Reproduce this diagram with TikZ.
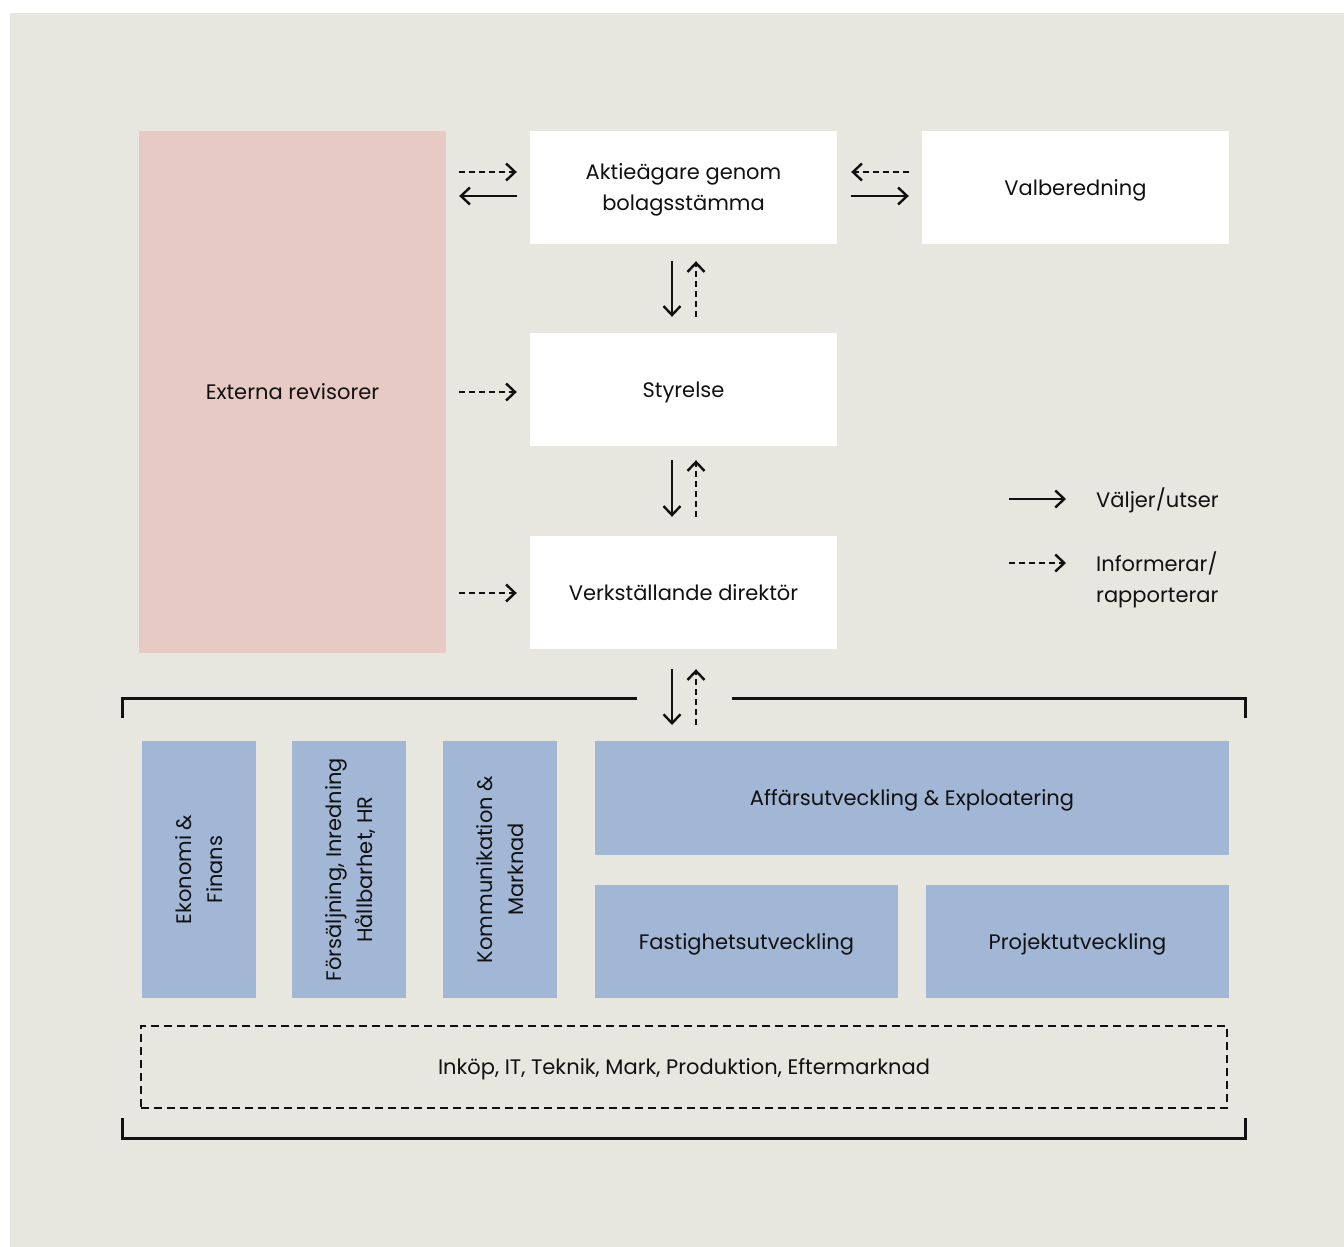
\documentclass[tikz,border=0pt]{standalone}
\usepackage{fontspec}
\setmainfont{Poppins}
\usetikzlibrary{arrows.meta,calc}
\definecolor{bg}{HTML}{E7E6DF}
\definecolor{pinkbox}{HTML}{E7CAC4}
\definecolor{bluebox}{HTML}{A2B6D6}
\definecolor{ink}{HTML}{111111}
\newcommand\twoline[2]{\vbox{\halign{\hfil##\hfil\cr#1\cr#2\cr}}}
\begin{document}
\begin{tikzpicture}[x=1pt,y=-1pt,
  txt/.style={font=\fontsize{21}{31}\selectfont, text=ink, text height=15pt, text depth=0pt},
  txttwo/.style={txt, text height=46pt},
  wbox/.style={txt, fill=white, minimum width=307pt, minimum height=113pt, inner sep=0pt},
  bbox/.style={txt, fill=bluebox, inner sep=0pt},
  sol/.style={draw=ink, line width=2.4pt, -{Straight Barb[length=9pt,width=17pt]}},
  dsh/.style={sol, dash pattern=on 6pt off 4pt},
  brk/.style={draw=ink, line width=3pt, line cap=butt}]
\useasboundingbox (0,0) rectangle (1344,1247);
\fill[bg] (10,13) rectangle (1344,1247);

% main boxes
\node[txt, fill=pinkbox, minimum width=307pt, minimum height=522pt, inner sep=0pt] (ext) at (292.5,392) {Externa revisorer};
\node[wbox, txttwo] (aa) at (683.5,187.5) {\twoline{Aktieägare genom}{bolagsstämma}};
\node[wbox] (val) at (1075.5,187.5) {Valberedning};
\node[wbox] (sty) at (683.5,389.5) {Styrelse};
\node[wbox] (vd) at (683.5,592.5) {Verkställande direktör};

% horizontal arrows ext <-> aa
\draw[dsh] ($(ext.east |- aa.west)+(13,-15.5)$) -- ($(aa.west)+(-13,-15.5)$);
\draw[sol] ($(aa.west)+(-13,8.5)$) -- ($(ext.east |- aa.west)+(13,8.5)$);
% aa <-> val
\draw[dsh] ($(val.west)+(-13,-15.5)$) -- ($(aa.east)+(14,-15.5)$);
\draw[sol] ($(aa.east)+(14,8.5)$) -- ($(val.west)+(-13,8.5)$);
% ext -> sty, ext -> vd
\draw[dsh] ($(ext.east |- sty.west)+(13,2.5)$) -- ($(sty.west)+(-13,2.5)$);
\draw[dsh] ($(ext.east |- vd.west)+(13,0.5)$) -- ($(vd.west)+(-13,0.5)$);

% vertical arrows aa <-> sty
\draw[sol] ($(aa.south)+(-11.5,17)$) -- ($(sty.north)+(-11.5,-16)$);
\draw[dsh] ($(sty.north)+(12.5,-16)$) -- ($(aa.south)+(12.5,17)$);
% sty <-> vd
\draw[sol] ($(sty.south)+(-11.5,14)$) -- ($(vd.north)+(-11.5,-19)$);
\draw[dsh] ($(vd.north)+(12.5,-19)$) -- ($(sty.south)+(12.5,14)$);
% vd <-> organisation
\coordinate (org) at (683.5,725);
\draw[sol] ($(vd.south)+(-11.5,20)$) -- ($(org)+(-11.5,0)$);
\draw[dsh] ($(org)+(12.5,0)$) -- ($(vd.south)+(12.5,20)$);

% brackets
\draw[brk] (122,718) -- (122,698) -- (637,698);
\draw[brk] (732,698) -- (1245,698) -- (1245,718);
\draw[brk] (122,1118) -- (122,1138) -- (1245,1138) -- (1245,1118);

% blue boxes
\node[bbox, txttwo, rotate=90, minimum width=257pt, minimum height=114pt] (eko) at (199,869.5) {\twoline{Ekonomi \&}{Finans}};
\node[bbox, txttwo, rotate=90, minimum width=257pt, minimum height=114pt] (fors) at (349,869.5) {\twoline{Försäljning, Inredning}{Hållbarhet, HR}};
\node[bbox, txttwo, rotate=90, minimum width=257pt, minimum height=114pt] (kom) at (500,869.5) {\twoline{Kommunikation \&}{Marknad}};
\node[bbox, minimum width=634pt, minimum height=114pt] (aff) at (912,798) {Affärsutveckling \& Exploatering};
\node[bbox, minimum width=303pt, minimum height=113pt] (fast) at (746.5,941.5) {Fastighetsutveckling};
\node[bbox, minimum width=303pt, minimum height=113pt] (proj) at (1077.5,941.5) {Projektutveckling};

% dashed box
\node[txt, draw=ink, line width=2.7pt, dash pattern=on 8pt off 5pt, minimum width=1086pt, minimum height=82pt, inner sep=0pt] (inkop) at (684,1067) {Inköp, IT, Teknik, Mark, Produktion, Eftermarknad};

% legend
\coordinate (l1s) at (1009,499);
\coordinate (l1e) at (1066,499);
\coordinate (l2s) at (1009,563);
\coordinate (l2e) at (1066,563);
\draw[sol] (l1s) -- (l1e);
\draw[dsh] (l2s) -- (l2e);
\node[txt, anchor=west, inner sep=0pt] (lt1) at (1096,500) {Väljer/utser};
\node[txt, anchor=base west, inner sep=0pt] (lt2) at (1096,602) {\vbox{\halign{#\hfil\cr Informerar/\cr rapporterar\cr}}};
\end{tikzpicture}
\end{document}
